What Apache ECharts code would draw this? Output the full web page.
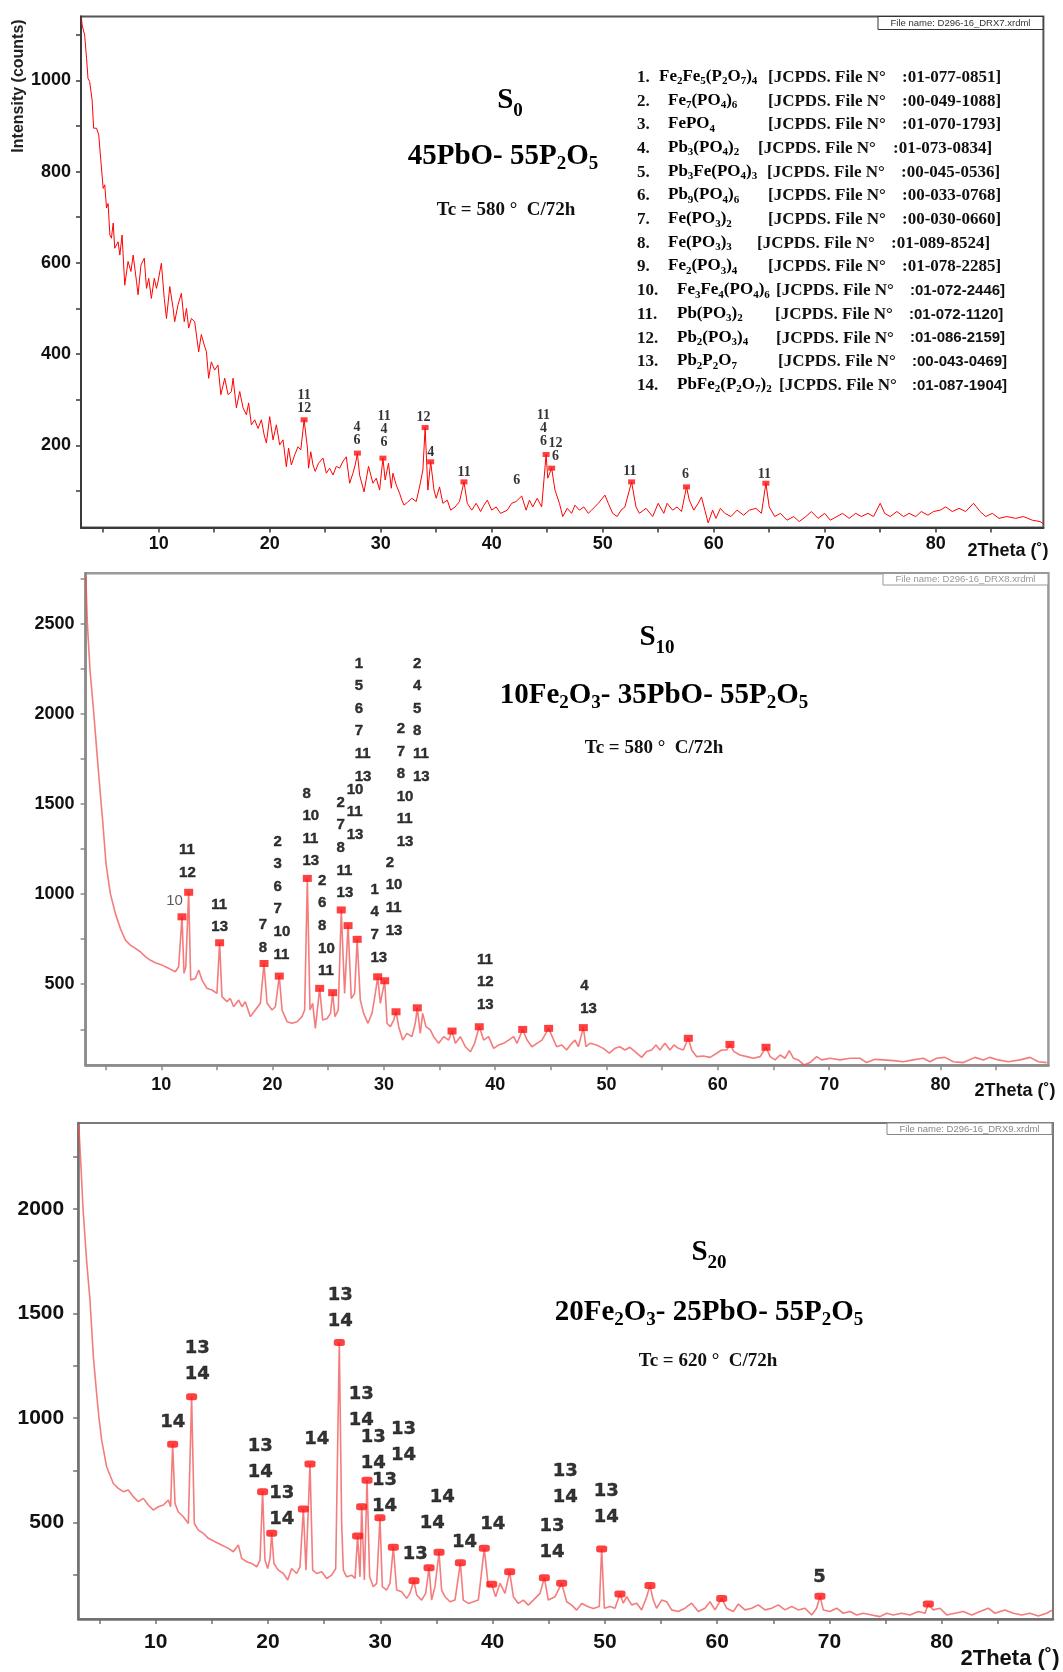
<!DOCTYPE html>
<html>
<head>
<meta charset="utf-8">
<title>XRD patterns S0, S10, S20</title>
<script src="https://cdn.jsdelivr.net/npm/echarts@6/dist/echarts.min.js"></script>
<style>
  html, body { margin: 0; padding: 0; background: #fff; }
  #chart { width: 1063px; height: 1672px; }
</style>
</head>
<body>
<div id="chart"></div>
<script>
// values: [2theta (deg), intensity (counts)]
const scanS0 = [
  [3.05,1135],[3.1,1121],[3.33,1099],[3.5,1048],[3.63,1004],[3.78,997],[4.0,957],[4.14,895],[4.4,895],[4.6,880],
  [4.77,829],[5.0,763],[5.14,771],[5.3,720],[5.44,730],[5.6,661],[5.74,654],[5.9,687],[6.04,632],[6.34,646],
  [6.5,617],[6.7,661],[6.94,551],[7.24,603],[7.5,581],[7.7,617],[8.0,559],[8.14,530],[8.4,595],[8.7,610],
  [8.9,544],[9.1,566],[9.34,522],[9.6,566],[9.8,544],[9.94,559],[10.24,599],[10.5,522],[10.7,478],[11.0,548],
  [11.3,500],[11.44,471],[11.74,508],[12.04,533],[12.3,471],[12.5,500],[12.7,457],[12.94,478],[13.24,471],[13.4,442],
  [13.6,405],[13.84,443],[14.1,420],[14.3,405],[14.5,347],[14.74,383],[15.04,365],[15.34,376],[15.6,311],[15.95,347],
  [16.25,311],[16.55,318],[16.7,347],[17.0,282],[17.3,318],[17.6,282],[17.9,267],[18.1,293],[18.35,245],[18.65,256],
  [18.95,237],[19.25,256],[19.5,223],[19.7,205],[20.0,263],[20.3,212],[20.6,245],[20.9,201],[21.2,212],[21.5,153],
  [21.7,194],[21.95,157],[22.25,179],[22.55,197],[22.8,190],[23.1,256],[23.4,194],[23.5,150],[23.7,186],[23.9,157],
  [24.1,143],[24.4,161],[24.8,172],[25.1,139],[25.4,150],[25.7,135],[26.0,154],[26.3,150],[26.6,165],[26.9,175],
  [27.2,117],[27.5,139],[27.7,157],[27.9,182],[28.1,135],[28.5,98],[28.9,154],[29.3,117],[29.6,128],[29.9,102],
  [30.2,172],[30.4,124],[30.7,161],[30.95,106],[31.1,139],[31.4,113],[31.7,95],[31.9,80],[32.1,69],[32.4,75],
  [32.8,84],[33.2,77],[33.5,109],[33.8,146],[34.0,239],[34.25,102],[34.5,164],[34.8,102],[35.0,84],[35.3,109],
  [35.6,73],[36.0,80],[36.3,58],[36.7,65],[37.1,77],[37.5,120],[37.8,73],[38.2,58],[38.6,73],[39.0,55],
  [39.3,69],[39.6,80],[40.0,58],[40.4,65],[40.8,51],[41.4,58],[41.8,73],[42.2,77],[42.7,89],[43.1,58],
  [43.4,80],[43.7,65],[44.1,84],[44.5,65],[44.9,180],[45.05,128],[45.4,150],[45.7,102],[46.1,73],[46.4,44],
  [46.8,62],[47.2,51],[47.5,69],[47.9,58],[48.3,65],[48.7,51],[49.0,58],[49.6,73],[50.2,91],[50.5,73],
  [50.9,51],[51.3,44],[51.65,58],[52.0,65],[52.6,120],[53.0,65],[53.3,51],[53.9,62],[54.5,44],[55.0,73],
  [55.5,51],[55.8,73],[56.3,58],[56.7,65],[57.1,55],[57.55,109],[57.8,80],[58.2,58],[58.6,73],[58.9,87],
  [59.2,58],[59.5,30],[59.9,58],[60.2,40],[60.6,62],[61.0,51],[61.55,44],[62.1,58],[62.7,47],[63.2,58],
  [63.8,62],[64.3,51],[64.7,117],[65.0,65],[65.5,44],[66.0,51],[66.6,36],[67.2,44],[67.7,33],[68.3,44],
  [68.8,55],[69.4,40],[70.0,51],[70.5,36],[71.1,44],[71.6,51],[72.2,40],[72.8,51],[73.3,44],[73.9,51],
  [74.4,44],[75.0,73],[75.4,51],[75.9,44],[76.5,55],[77.1,44],[77.6,51],[78.2,44],[78.7,55],[79.3,47],
  [79.8,55],[80.4,58],[80.9,65],[81.5,55],[82.1,62],[82.7,55],[83.4,73],[84.0,55],[84.5,44],[85.1,51],
  [85.7,40],[86.4,44],[87.2,40],[87.9,44],[88.7,36],[89.4,33],[89.7,28]
];
const peaksS0 = [[23.1,256],[27.9,183],[30.2,172],[34.0,239],[34.5,164],[37.5,120],[44.9,180],[45.4,150],[52.6,120],[57.55,109],[64.7,117]];
// phase numbers written over the peaks: [2theta, counts, text]
const tagsS0 = [
  [23.15,266,'11\n12'],[27.9,196,'4\n6'],[30.35,192,'11\n4\n6'],[33.9,247,'12'],[34.55,170,'4'],[37.56,126,'11'],
  [42.3,108,'6'],[44.7,194,'11\n4\n6'],[45.8,161,'12\n6'],[52.5,128,'11'],[57.5,120,'6'],[64.6,122,'11']
];

const scanS10 = [
  [3.22,2760],[3.36,2500],[3.6,2240],[3.94,2000],[4.25,1760],[4.6,1500],[4.73,1411],[5.03,1171],[5.42,1004],[5.87,893],
  [6.32,810],[6.77,745],[7.22,717],[7.67,699],[8.12,680],[8.57,653],[9.0,634],[9.46,619],[10.06,606],[10.66,588],
  [11.26,569],[11.56,597],[11.86,874],[12.04,560],[12.2,597],[12.46,1010],[12.64,523],[13.06,532],[13.36,579],[13.66,523],
  [14.1,477],[14.55,468],[15.0,449],[15.24,730],[15.45,431],[15.9,403],[16.2,421],[16.5,375],[16.95,412],[17.25,375],
  [17.55,403],[18.0,320],[18.45,357],[18.9,394],[19.23,615],[19.5,394],[19.95,357],[20.25,375],[20.6,545],[20.85,357],
  [21.3,292],[21.74,283],[22.2,292],[22.64,320],[22.88,357],[23.12,1087],[23.36,357],[23.6,394],[23.84,255],[24.23,477],
  [24.5,301],[24.9,310],[25.2,338],[25.4,453],[25.6,320],[25.9,357],[26.17,912],[26.47,449],[26.78,825],[27.07,421],
  [27.37,449],[27.6,749],[27.88,412],[28.18,338],[28.57,283],[28.93,338],[29.23,449],[29.44,541],[29.68,394],[30.07,519],
  [30.28,283],[30.58,264],[30.88,301],[31.09,347],[31.33,264],[31.69,190],[32.07,227],[32.52,209],[32.82,283],[33.0,369],
  [33.27,227],[33.48,338],[33.78,264],[34.17,246],[34.47,209],[34.92,172],[35.37,209],[35.82,190],[36.12,240],[36.42,172],
  [36.87,209],[37.32,153],[37.77,125],[38.15,172],[38.57,264],[38.96,190],[39.4,209],[39.86,144],[40.3,162],[40.76,172],
  [41.2,190],[41.66,209],[41.96,172],[42.47,249],[42.86,190],[43.3,153],[43.75,172],[44.2,190],[44.8,255],[45.22,195],
  [45.52,153],[45.97,163],[46.42,135],[46.87,172],[47.17,190],[47.47,153],[47.92,259],[48.15,153],[48.51,172],[49.11,163],
  [49.71,144],[50.25,117],[50.76,144],[51.2,153],[51.66,135],[52.1,150],[52.56,126],[53.16,94],[53.6,126],[54.05,135],
  [54.44,163],[54.8,135],[55.25,172],[55.7,135],[56.06,163],[56.45,144],[56.9,135],[57.35,200],[57.65,135],[58.1,98],
  [58.7,102],[59.3,94],[59.9,117],[60.34,135],[60.8,135],[61.09,166],[61.45,126],[62.0,107],[62.6,98],[63.2,89],
  [63.8,98],[64.33,150],[64.7,98],[65.14,80],[65.6,107],[66.03,89],[66.42,131],[66.8,89],[67.23,80],[67.74,52],
  [68.28,65],[68.88,98],[69.33,80],[70.08,89],[70.98,80],[71.88,89],[72.77,89],[73.37,65],[74.12,83],[74.87,80],
  [75.77,76],[76.67,70],[77.56,80],[78.46,89],[79.06,70],[79.66,89],[80.41,94],[81.16,70],[82.06,65],[83.1,94],
  [83.85,80],[84.45,94],[85.2,80],[86.1,70],[87.15,80],[88.05,94],[88.8,70],[89.55,65]
];
const peaksS10 = [[11.86,874],[12.46,1010],[15.24,730],[19.23,615],[20.6,545],[23.12,1087],[24.23,477],[25.4,453],[26.17,912],
  [26.78,825],[27.6,749],[29.44,541],[30.07,519],[31.09,347],[33.0,369],[36.12,240],[38.57,264],[42.47,249],[44.8,255],
  [47.92,259],[57.35,200],[61.09,166],[64.33,150]];
const tagsS10 = [
  [10.49,1020,'{r|10}'],[11.64,1303,'11\n12'],[14.54,1002,'11\n13'],[18.8,887,'7\n8'],[20.13,1352,'2\n3\n6\n7\n10\n11'],
  [22.73,1618,'8\n10\n11\n13'],[24.13,1135,'2\n6\n8\n10\n11'],[25.79,1567,'2\n7\n8\n11\n13'],[26.71,1640,'10\n11\n13'],
  [27.42,2340,'1\n5\n6\n7\n11\n13'],[28.84,1085,'1\n4\n7\n13'],[30.2,1234,'2\n10\n11\n13'],[31.2,1977,'2\n7\n8\n10\n11\n13'],
  [32.65,2340,'2\n4\n5\n8\n11\n13'],[38.4,697,'11\n12\n13'],[47.68,549,'4\n13']
];

const scanS20 = [
  [3.15,2400],[3.35,2200],[3.53,2000],[3.85,1750],[4.15,1563],[4.45,1293],[4.74,1117],[4.95,1000],[5.19,894],[5.63,767],
  [6.23,687],[6.67,664],[7.12,648],[7.56,656],[8.01,624],[8.45,600],[8.9,616],[9.34,584],[9.79,560],[10.23,576],
  [10.68,584],[11.13,608],[11.33,576],[11.51,875],[11.72,592],[12.0,552],[12.46,528],[12.91,496],[13.2,1101],[13.44,496],
  [13.8,464],[14.24,449],[14.69,425],[15.28,409],[15.87,393],[16.47,377],[16.91,361],[17.36,393],[17.66,329],[18.1,313],
  [18.55,305],[19.0,289],[19.29,321],[19.52,648],[19.73,321],[19.97,281],[20.18,329],[20.33,449],[20.53,305],[20.92,273],
  [21.37,257],[21.75,226],[22.11,281],[22.55,257],[22.85,289],[23.15,565],[23.38,273],[23.74,780],[23.98,273],[24.33,257],
  [24.78,265],[25.22,233],[25.67,249],[26.03,281],[26.35,1361],[26.56,496],[26.71,273],[27.0,241],[27.45,249],[27.75,233],
  [27.98,436],[28.19,241],[28.34,576],[28.58,226],[28.82,703],[29.05,241],[29.38,194],[29.68,210],[29.97,523],[30.18,194],
  [30.57,178],[30.86,210],[31.16,382],[31.46,178],[31.9,170],[32.35,138],[32.64,162],[33.0,222],[33.24,154],[33.68,130],
  [34.04,162],[34.34,284],[34.57,130],[34.87,194],[35.23,358],[35.46,178],[35.76,146],[36.21,122],[36.65,130],[37.13,308],
  [37.39,130],[37.84,114],[38.29,122],[38.73,130],[39.26,377],[39.62,194],[39.92,205],[40.27,146],[40.66,210],[41.1,162],
  [41.52,265],[41.85,146],[42.29,114],[42.74,130],[43.18,106],[43.63,130],[44.22,162],[44.61,237],[44.96,130],[45.56,146],
  [46.15,210],[46.6,122],[47.04,106],[47.49,82],[47.93,114],[48.52,98],[48.97,90],[49.5,99],[49.71,374],[49.95,91],
  [50.45,99],[50.9,91],[51.34,159],[51.64,115],[51.94,146],[52.38,107],[52.83,115],[53.27,83],[53.72,146],[54.01,199],
  [54.31,130],[54.6,91],[55.05,130],[55.5,122],[55.94,83],[56.54,75],[57.13,91],[57.72,115],[58.32,75],[58.91,91],
  [59.36,122],[59.8,83],[60.4,138],[60.84,91],[61.43,75],[61.88,111],[62.47,83],[63.07,91],[63.66,107],[64.25,83],
  [64.85,91],[65.44,107],[66.03,83],[66.63,99],[67.22,83],[67.81,91],[68.41,59],[68.85,91],[69.15,148],[69.45,83],
  [70.04,75],[70.64,91],[71.23,67],[71.82,75],[72.42,59],[73.01,67],[73.75,59],[74.49,51],[75.09,67],[75.68,59],
  [76.42,67],[77.16,59],[77.91,75],[78.5,67],[78.8,111],[79.24,83],[79.84,91],[80.43,59],[81.17,67],[81.91,75],
  [82.66,59],[83.4,75],[84.14,91],[84.73,67],[85.62,83],[86.37,67],[87.11,59],[87.85,67],[88.59,54],[89.34,67],[89.87,83]
];
const peaksS20 = [[11.51,875],[13.2,1101],[19.52,648],[20.33,449],[23.15,565],[23.74,780],[26.35,1361],[27.98,436],[28.34,576],
  [28.82,703],[29.97,523],[31.16,382],[33.0,222],[34.34,284],[35.23,358],[37.13,308],[39.26,377],[39.92,205],[41.52,265],
  [44.61,237],[46.15,210],[49.71,374],[51.34,159],[54.01,199],[60.4,138],[69.15,148],[78.8,111]];
const tagsS20 = [
  [11.57,1040,'14'],[13.74,1392,'13\n14'],[19.35,922,'13\n14'],[21.27,698,'13\n14'],[24.39,960,'14'],[26.47,1645,'13\n14'],
  [28.34,1175,'13\n14'],[29.41,965,'13\n14'],[32.11,1005,'13\n14'],[30.42,763,'13\n14'],[35.56,683,'14'],[34.67,556,'14'],
  [33.15,408,'13'],[37.54,464,'14'],[40.06,554,'14'],[46.51,803,'13\n14'],[45.33,540,'13\n14'],[50.16,710,'13\n14'],[69.15,296,'5']
];

// axis ticks and labels
const xLabelValues = [10, 20, 30, 40, 50, 60, 70, 80];
const xTickValues = [5, 10, 15, 20, 25, 30, 35, 40, 45, 50, 55, 60, 65, 70, 75, 80, 85];
const yLabelsS0 = [200, 400, 600, 800, 1000];
const yTicksS0 = [100, 200, 300, 400, 500, 600, 700, 800, 900, 1000, 1100];
const yLabelsS10 = [500, 1000, 1500, 2000, 2500];
const yTicksS10 = [250, 500, 750, 1000, 1250, 1500, 1750, 2000, 2250, 2500, 2750];
const yLabelsS20 = [500, 1000, 1500, 2000];
const yTicksS20 = [250, 500, 750, 1000, 1250, 1500, 1750, 2000, 2250];

// identified phases
const phaseFormulas = ['Fe_{2}Fe_{5}(P_{2}O_{7})_{4}', 'Fe_{7}(PO_{4})_{6}', 'FePO_{4}', 'Pb_{3}(PO_{4})_{2}', 'Pb_{3}Fe(PO_{4})_{3}',
  'Pb_{9}(PO_{4})_{6}', 'Fe(PO_{3})_{2}', 'Fe(PO_{3})_{3}', 'Fe_{2}(PO_{3})_{4}', 'Fe_{3}Fe_{4}(PO_{4})_{6}', 'Pb(PO_{3})_{2}',
  'Pb_{2}(PO_{3})_{4}', 'Pb_{2}P_{2}O_{7}', 'PbFe_{2}(P_{2}O_{7})_{2}'];
const phaseCards = ['01-077-0851', '00-049-1088', '01-070-1793', '01-073-0834', '00-045-0536', '00-033-0768', '00-030-0660',
  '01-089-8524', '01-078-2285', '01-072-2446', '01-072-1120', '01-086-2159', '00-043-0469', '01-087-1904'];

const SANS = 'Liberation Sans, Arial, sans-serif';
const SERIF = 'Liberation Serif, Times New Roman, serif';

// turn 'Fe_{2}O_{3}' into rich text tokens
function chem(str, m, s) {
  return str.split(/(_\{[^}]*\})/).filter(Boolean)
    .map(p => p.startsWith('_{') ? '{' + s + '|' + p.slice(2, -1) + '}' : '{' + m + '|' + p + '}')
    .join('');
}

function subRich(size, subSize, lineHeight) {
  return {
    m: { fontFamily: SERIF, fontWeight: 'bold', fontSize: size, color: '#111', verticalAlign: 'top' },
    s: { fontFamily: SERIF, fontWeight: 'bold', fontSize: subSize, color: '#111', verticalAlign: 'bottom', lineHeight: lineHeight }
  };
}

function titleText(x, y, str, size, subSize, lineHeight) {
  return {
    type: 'text', x: x, y: y, z: 100, silent: true,
    style: { text: chem(str, 'm', 's'), align: 'center', verticalAlign: 'middle', rich: subRich(size, subSize, lineHeight) }
  };
}

function plainText(x, y, str, font, extra) {
  return Object.assign({
    type: 'text', x: x, y: y, z: 100, silent: true,
    style: Object.assign({ text: str, fill: '#111', align: 'left', verticalAlign: 'middle' }, font)
  }, extra || {});
}

function fileBox(x, y, w, h, str, color) {
  return [
    { type: 'rect', z: 90, silent: true, shape: { x: x, y: y, width: w, height: h },
      style: { fill: '#fff', stroke: color, lineWidth: 1 } },
    plainText(x + w / 2, y + h / 2 + 0.5, str, { fontFamily: SANS, fontSize: 9.5, fill: color, align: 'center' })
  ];
}

const panels = [
  {
    scan: scanS0, peaks: peaksS0, tags: tagsS0, yLabels: yLabelsS0, yTicks: yTicksS0,
    xMin: 3, xMax: 89.7, yMin: 20, yMax: 1140,
    grid: { left: 81, top: 16.4, width: 962.4, height: 511.1 },
    axisColor: '#3a3a3a', axisWidth: 2, frameColor: '#555', frameWidth: 2,
    fontSize: 18, xMargin: 8, yMargin: 10,
    line: { color: '#ff0000', width: 1 },
    mark: { symbol: 'rect', size: [7, 5] },
    tagStyle: { fontFamily: SERIF, fontWeight: 'bold', fontSize: 14, lineHeight: 13, align: 'center', verticalAlign: 'bottom', color: '#000' }
  },
  {
    scan: scanS10, peaks: peaksS10, tags: tagsS10, yLabels: yLabelsS10, yTicks: yTicksS10,
    xMin: 3.2, xMax: 89.7, yMin: 50, yMax: 2780,
    grid: { left: 85.6, top: 573.3, width: 962.8, height: 492 },
    axisColor: '#8a8a8a', axisWidth: 2.5, frameColor: '#9a9a9a', frameWidth: 2.5,
    fontSize: 18, xMargin: 11, yMargin: 11,
    line: { color: 'rgba(240,80,80,0.75)', width: 1.6 },
    mark: { symbol: 'rect', size: [9, 7] },
    tagStyle: { fontFamily: 'Liberation Sans, Arial, sans-serif', fontWeight: 'bold', fontSize: 15, lineHeight: 22.6,
      align: 'left', verticalAlign: 'top', color: '#000', textBorderColor: '#000', textBorderWidth: 0.4,
      rich: { r: { fontFamily: 'Liberation Sans, Arial, sans-serif', fontWeight: 'normal', fontSize: 15, color: '#333', textBorderWidth: 0 } } }
  },
  {
    scan: scanS20, peaks: peaksS20, tags: tagsS20, yLabels: yLabelsS20, yTicks: yTicksS20,
    xMin: 3.1, xMax: 89.9, yMin: 40, yMax: 2410,
    grid: { left: 78.2, top: 1122.9, width: 974.8, height: 496 },
    axisColor: '#707070', axisWidth: 2.5, frameColor: '#7a7a7a', frameWidth: 2,
    fontSize: 21, xMargin: 13, yMargin: 14,
    line: { color: 'rgba(240,80,80,0.75)', width: 1.6 },
    mark: { symbol: 'roundRect', size: [11, 7] },
    tagStyle: { fontFamily: 'DejaVu Sans, Verdana, sans-serif', fontWeight: 'bold', fontSize: 18, lineHeight: 26,
      align: 'center', verticalAlign: 'top', color: '#000', textBorderColor: '#000', textBorderWidth: 0.4 }
  }
];

const series = [];
panels.forEach((p, i) => {
  series.push({
    type: 'line', xAxisIndex: i, yAxisIndex: i, data: p.scan, showSymbol: false, silent: true, z: 2,
    lineStyle: { color: p.line.color, width: p.line.width }
  });
  series.push({
    type: 'scatter', xAxisIndex: i, yAxisIndex: i, data: p.peaks, silent: true, z: 3,
    symbol: p.mark.symbol, symbolSize: p.mark.size, itemStyle: { color: '#ff1010' }
  });
  series.push({
    type: 'scatter', xAxisIndex: i, yAxisIndex: i, silent: true, z: 4,
    data: p.tags.map(t => [t[0], t[1]]),
    symbolSize: 1, itemStyle: { color: 'rgba(0,0,0,0)' },
    label: Object.assign({ show: true, position: [0, 0], formatter: params => p.tags[params.dataIndex][2] }, p.tagStyle)
  });
});

const legendFormulaX = [659, 668, 668, 668, 668, 668, 668, 668, 668, 677, 677, 677, 677, 677];
const legendRefX = [768, 768, 768, 758, 767, 768, 768, 757, 768, 776, 775, 776, 778, 779];
const legendCodeX = [902, 902, 902, 893, 901, 902, 902, 891, 902, 910, 909, 910, 912, 912];
const legendFont = { fontFamily: SERIF, fontWeight: 'bold', fontSize: 17 };

const graphic = [];
phaseFormulas.forEach((f, i) => {
  const y = 77.5 + i * 23.7;
  graphic.push(plainText(637, y, (i + 1) + '.', legendFont));
  graphic.push({
    type: 'text', x: legendFormulaX[i], y: y, z: 100, silent: true,
    style: { text: chem(f, 'm', 's'), align: 'left', verticalAlign: 'middle', rich: subRich(17, 11, 19) }
  });
  graphic.push(plainText(legendRefX[i], y, '[JCPDS. File N°', legendFont));
  const codeFont = i >= 9 ? { fontFamily: SANS, fontWeight: 'bold', fontSize: 15 } : legendFont;
  graphic.push(plainText(legendCodeX[i], y, ':' + phaseCards[i] + ']', codeFont));
});

const tcFont = { fontFamily: SERIF, fontWeight: 'bold', fontSize: 19, align: 'center' };
const thetaFont = { fontFamily: SANS, fontWeight: 'bold', align: 'center' };

graphic.push(
  titleText(510, 103, 'S_{0}', 29, 19, 34.5),
  titleText(503, 158, '45PbO- 55P_{2}O_{5}', 29, 19, 31.5),
  plainText(506, 210, 'Tc = 580 °  C/72h', tcFont),
  titleText(657, 640, 'S_{10}', 29, 19, 34.5),
  titleText(654, 697, '10Fe_{2}O_{3}- 35PbO- 55P_{2}O_{5}', 29, 19, 31.5),
  plainText(654, 748, 'Tc = 580 °  C/72h', tcFont),
  titleText(709, 1255, 'S_{20}', 29, 19, 34.5),
  titleText(709, 1314, '20Fe_{2}O_{3}- 25PbO- 55P_{2}O_{5}', 29, 19, 31.5),
  plainText(708, 1361, 'Tc = 620 °  C/72h', tcFont),
  plainText(1008, 551, '2Theta (˚)', Object.assign({ fontSize: 18 }, thetaFont)),
  plainText(1015, 1091, '2Theta (˚)', Object.assign({ fontSize: 18 }, thetaFont)),
  plainText(1010, 1659, '2Theta (˚)', Object.assign({ fontSize: 22 }, thetaFont)),
  plainText(19, 86, 'Intensity (counts)', { fontFamily: SANS, fontWeight: 'bold', fontSize: 16, align: 'center', fill: '#222' },
    { rotation: Math.PI / 2 })
);
graphic.push(...fileBox(878, 16.5, 165, 13, 'File name: D296-16_DRX7.xrdml', '#333'));
graphic.push(...fileBox(883, 573.5, 165, 11.5, 'File name: D296-16_DRX8.xrdml', '#999'));
graphic.push(...fileBox(887, 1123, 165, 11.5, 'File name: D296-16_DRX9.xrdml', '#888'));

const plainNumber = v => String(v);

const option = {
  animation: false,
  grid: panels.map(p => Object.assign({ show: true, borderColor: p.frameColor, borderWidth: p.frameWidth, backgroundColor: 'transparent' }, p.grid)),
  xAxis: panels.map((p, i) => ({
    type: 'value', gridIndex: i, min: p.xMin, max: p.xMax,
    axisLine: { show: true, onZero: false, lineStyle: { color: p.axisColor, width: p.axisWidth } },
    axisTick: { show: true, customValues: xTickValues, length: 5, lineStyle: { color: p.axisColor, width: 1.5 } },
    axisLabel: { customValues: xLabelValues, formatter: plainNumber, margin: p.xMargin, fontSize: p.fontSize,
      fontWeight: 'bold', fontFamily: SANS, color: '#111' },
    splitLine: { show: false }
  })),
  yAxis: panels.map((p, i) => ({
    type: 'value', gridIndex: i, min: p.yMin, max: p.yMax,
    axisLine: { show: true, onZero: false, lineStyle: { color: p.axisColor, width: p.axisWidth } },
    axisTick: { show: true, customValues: p.yTicks, length: 5, lineStyle: { color: p.axisColor, width: 1.5 } },
    axisLabel: { customValues: p.yLabels, formatter: plainNumber, margin: p.yMargin, fontSize: p.fontSize,
      fontWeight: 'bold', fontFamily: SANS, color: '#111' },
    splitLine: { show: false }
  })),
  series: series,
  graphic: graphic
};

const chart = echarts.init(document.getElementById('chart'), null, { renderer: 'canvas' });
chart.setOption(option);
</script>
</body>
</html>
